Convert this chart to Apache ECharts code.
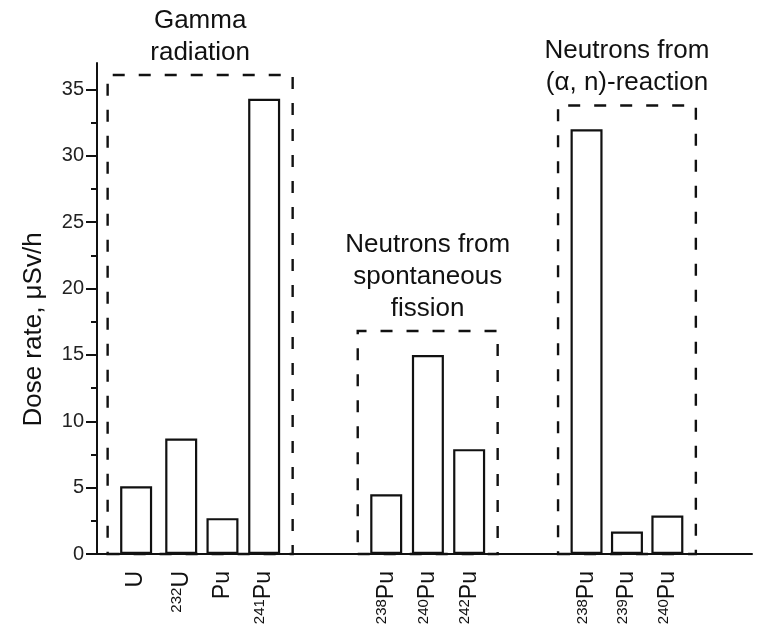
<!DOCTYPE html>
<html>
<head>
<meta charset="utf-8">
<title>Dose rate</title>
<script src="https://cdn.jsdelivr.net/npm/echarts@6/dist/echarts.min.js"></script>
<style>
  html, body { margin: 0; padding: 0; background: #fff; }
  #chart { width: 758px; height: 632px; }
</style>
</head>
<body>
<div id="chart"></div>
<script>
// isotopes, left to right
const massNumbers = ['', '232', '', '241', '238', '240', '242', '238', '239', '240']
const elements = ['U', 'U', 'Pu', 'Pu', 'Pu', 'Pu', 'Pu', 'Pu', 'Pu', 'Pu']
// bar centres on the x scale (1 unit = one bar slot)
const xPositions = [0.92, 1.98, 2.95, 3.93, 6.80, 7.78, 8.75, 11.51, 12.46, 13.41]
// dose rate, uSv/h
const doseRates = [5.1, 8.7, 2.7, 34.3, 4.5, 15.0, 7.9, 32.0, 1.7, 2.9]

// dashed groups: first and last bar index
const groupNames = ['Gamma\nradiation', 'Neutrons from\nspontaneous\nfission', 'Neutrons from\n(\u03b1, n)-reaction']
const groupMembers = [[0, 3], [4, 6], [7, 9]]

const yTicks = [0, 5, 10, 15, 20, 25, 30, 35]
const yMinorTicks = [2.5, 7.5, 12.5, 17.5, 22.5, 27.5, 32.5]

const ink = '#111'
const font = 'Liberation Sans, Arial, sans-serif'
const boxPadX = 0.67
const boxPadY = 1.8

const chart = echarts.init(document.getElementById('chart'))

const barData = xPositions.map((x, i) => [x, doseRates[i]])

const areas = groupMembers.map((g, k) => {
  const vals = doseRates.slice(g[0], g[1] + 1)
  return [
    { name: groupNames[k], xAxis: xPositions[g[0]] - boxPadX, yAxis: 0 },
    { xAxis: xPositions[g[1]] + boxPadX, yAxis: Math.max(...vals) + boxPadY }
  ]
})

chart.setOption({
  animation: false,
  backgroundColor: '#fff',
  grid: { left: 97, right: 6, top: 63, bottom: 78 },
  xAxis: {
    type: 'value',
    min: 0,
    max: 15.4,
    splitLine: { show: false },
    axisTick: { show: false },
    axisLine: { lineStyle: { color: ink, width: 2 } },
    axisLabel: {
      customValues: xPositions,
      rotate: 90,
      margin: 17,
      formatter: function (value) {
        const i = xPositions.indexOf(value)
        if (i < 0) return ''
        return (massNumbers[i] ? '{m|' + massNumbers[i] + '}' : '') + '{e|' + elements[i] + '}'
      },
      rich: {
        e: { fontFamily: font, fontSize: 23, color: ink },
        m: { fontFamily: font, fontSize: 15, color: ink, verticalAlign: 'top' }
      }
    }
  },
  yAxis: [{
    type: 'value',
    min: 0,
    max: 37,
    name: 'Dose rate, \u03bcSv/h',
    nameLocation: 'middle',
    nameGap: 50,
    nameTextStyle: { fontFamily: font, fontSize: 26, color: ink, padding: [0, 42, 0, 0] },
    splitLine: { show: false },
    axisLine: { show: true, lineStyle: { color: ink, width: 2 } },
    axisTick: { customValues: yTicks, length: 11, lineStyle: { color: ink, width: 2 } },
    axisLabel: { customValues: yTicks, fontFamily: font, fontSize: 20, color: '#222', margin: 13 }
  }, {
    type: 'value',
    min: 0,
    max: 37,
    position: 'left',
    splitLine: { show: false },
    axisLine: { show: false },
    axisTick: { show: true, customValues: yMinorTicks, length: 6, lineStyle: { color: ink, width: 2 } },
    axisLabel: { show: false }
  }],
  series: [{
    type: 'bar',
    yAxisIndex: 0,
    barWidth: 32,
    data: barData,
    silent: true,
    itemStyle: { color: '#fff', borderColor: ink, borderWidth: 2.2 },
    markArea: {
      silent: true,
      itemStyle: {
        color: 'rgba(0,0,0,0)',
        borderColor: ink,
        borderWidth: 2.4,
        borderType: [12, 14]
      },
      label: {
        show: true,
        position: 'top',
        distance: 5,
        fontFamily: font,
        fontSize: 26,
        lineHeight: 32,
        color: ink,
        align: 'center'
      },
      data: areas
    }
  }]
})
</script>
</body>
</html>
